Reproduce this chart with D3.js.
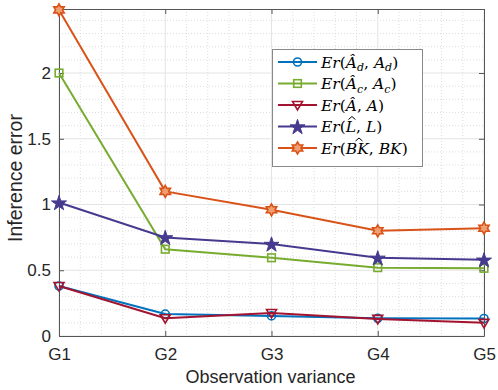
<!DOCTYPE html>
<html><head><meta charset="utf-8">
<script src="https://cdn.jsdelivr.net/npm/d3@7"></script>
<style>body{margin:0;background:#fff}svg{display:block}</style>
</head><body>
<svg id="c" width="498" height="390"></svg>
<script>
const categories = ["G1","G2","G3","G4","G5"];
const erAd = [0.38, 0.167, 0.153, 0.135, 0.133];
const erAc = [2.0, 0.66, 0.595, 0.52, 0.515];
const erA  = [0.38, 0.135, 0.175, 0.13, 0.10];
const erL  = [1.015, 0.75, 0.70, 0.595, 0.58];
const erBK = [2.48, 1.10, 0.96, 0.80, 0.82];
const yTicks = [0, 0.5, 1, 1.5, 2];

const series = [
  {v: erAd, color: "#0072BD", marker: "circle"},
  {v: erAc, color: "#77AC30", marker: "square"},
  {v: erA,  color: "#A2142F", marker: "tri"},
  {v: erL,  color: "#463A8F", marker: "star"},
  {v: erBK, color: "#D95319", marker: "hex"}
];

const svg = d3.select("#c");
const L = 59, R = 484, T = 9, B = 336;
const x = d3.scaleLinear().domain([0, categories.length - 1]).range([L, R]);
const y = d3.scaleLinear().domain([0, 2.487]).range([B, T]);

const g = svg.append("g");
const xMinor = d3.range(0, 4.0001, 0.2).filter(d => Math.abs(d - Math.round(d)) > 1e-6);
const yMinor = d3.range(0, 2.48, 0.1).filter(d => Math.abs(d*2 - Math.round(d*2)) > 1e-6);
g.selectAll(".xm").data(xMinor).join("line")
  .attr("x1", d => x(d)).attr("x2", d => x(d)).attr("y1", T).attr("y2", B)
  .attr("stroke", "#d4d4d4").attr("stroke-width", 0.8).attr("stroke-dasharray", "1,2");
g.selectAll(".ym").data(yMinor).join("line")
  .attr("y1", d => y(d)).attr("y2", d => y(d)).attr("x1", L).attr("x2", R)
  .attr("stroke", "#d4d4d4").attr("stroke-width", 0.8).attr("stroke-dasharray", "1,2");
g.selectAll(".xg").data(d3.range(categories.length)).join("line")
  .attr("x1", d => x(d)).attr("x2", d => x(d)).attr("y1", T).attr("y2", B)
  .attr("stroke", "#e3e3e3").attr("stroke-width", 1);
g.selectAll(".yg").data(yTicks).join("line")
  .attr("y1", d => y(d)).attr("y2", d => y(d)).attr("x1", L).attr("x2", R)
  .attr("stroke", "#e3e3e3").attr("stroke-width", 1);

const ax = d3.axisBottom(x).tickValues(d3.range(categories.length)).tickFormat(i => categories[i]).tickSizeInner(-5).tickSizeOuter(0).tickPadding(12);
const ay = d3.axisLeft(y).tickValues(yTicks).tickFormat(d3.format("")).tickSizeInner(-5).tickSizeOuter(0).tickPadding(8);
const axT = d3.axisTop(x).tickValues(d3.range(categories.length)).tickFormat("").tickSizeInner(-5).tickSizeOuter(0);
const ayR = d3.axisRight(y).tickValues(yTicks).tickFormat("").tickSizeInner(-5).tickSizeOuter(0);
function style(sel){
  sel.selectAll("path").attr("stroke", "#555").attr("stroke-width", 1);
  sel.selectAll("line").attr("stroke", "#555").attr("stroke-width", 1);
  sel.selectAll("text").attr("fill", "#262626").attr("font-family", "Liberation Sans, Arial, sans-serif").attr("font-size", 17);
}
svg.append("g").attr("transform", `translate(0,${B})`).call(ax).call(style);
svg.append("g").attr("transform", `translate(${L},0)`).call(ay).call(style);
svg.append("g").attr("transform", `translate(0,${T})`).call(axT).call(style);
svg.append("g").attr("transform", `translate(${R},0)`).call(ayR).call(style);

svg.append("text").attr("x", (L + R) / 2 - 1).attr("y", 383).attr("text-anchor", "middle")
  .attr("font-family", "Liberation Sans, Arial, sans-serif").attr("font-size", 18).attr("fill", "#262626")
  .text("Observation variance");
svg.append("text").attr("transform", `translate(22,${178}) rotate(-90)`).attr("text-anchor", "middle")
  .attr("font-family", "Liberation Sans, Arial, sans-serif").attr("font-size", 19.5).attr("fill", "#262626")
  .text("Inference error");

function hexPath(Rr){
  const r = Rr / Math.sqrt(3); const pts = [];
  for (let k = 0; k < 12; k++){
    const a = -Math.PI/2 + k * Math.PI / 6;
    const rad = k % 2 === 0 ? Rr : r;
    pts.push([rad*Math.cos(a), rad*Math.sin(a)]);
  }
  return "M" + pts.map(p => p.join(",")).join("L") + "Z";
}
function drawMarker(sel, m, color){
  if (m === "circle") sel.append("circle").attr("r", 4).attr("fill", "none").attr("stroke", color).attr("stroke-width", 1.6);
  else if (m === "square") sel.append("rect").attr("x", -3.8).attr("y", -3.8).attr("width", 7.6).attr("height", 7.6).attr("fill", "none").attr("stroke", color).attr("stroke-width", 1.6);
  else if (m === "tri") sel.append("path").attr("d", "M-5,-3.5L5,-3.5L0,5Z").attr("fill", "none").attr("stroke", color).attr("stroke-width", 1.6);
  else if (m === "star") sel.append("path").attr("d", d3.symbol(d3.symbolStar, 70)()).attr("transform","translate(0,0.8)").attr("fill", color).attr("stroke", color).attr("stroke-width", 1);
  else if (m === "hex") sel.append("path").attr("d", hexPath(6)).attr("fill", "#f0a070").attr("stroke", color).attr("stroke-width", 1.6);
}

const line = d3.line().x((d, i) => x(i)).y(d => y(d));
series.forEach(s => {
  svg.append("path").attr("d", line(s.v)).attr("fill", "none").attr("stroke", s.color).attr("stroke-width", 2);
  s.v.forEach((d, i) => {
    const mg = svg.append("g").attr("transform", `translate(${x(i)},${y(d)})`);
    drawMarker(mg, s.marker, s.color);
  });
});

// legend
const lg = svg.append("g");
lg.append("rect").attr("x", 272.5).attr("y", 49.5).attr("width", 150).attr("height", 117)
  .attr("fill", "#fff").attr("stroke", "#888").attr("stroke-width", 1);
const legendLabels = [
  [["Er","i"],["(","n"],["A\u0302","i"],["d","s"],[", ","n"],["A","i"],["d","s"],[")","n"]],
  [["Er","i"],["(","n"],["A\u0302","i"],["c","s"],[", ","n"],["A","i"],["c","s"],[")","n"]],
  [["Er","i"],["(","n"],["A\u0302","i"],[", ","n"],["A","i"],[")","n"]],
  [["Er","i"],["(","n"],["L","i",true],[", ","n"],["L","i"],[")","n"]],
  [["Er","i"],["(","n"],["BK","i",true],[", ","n"],["BK","i"],[")","n"]]
];
series.forEach((s, k) => {
  const yy = 62 + k * 21.5;
  lg.append("line").attr("x1", 278).attr("x2", 317).attr("y1", yy).attr("y2", yy).attr("stroke", s.color).attr("stroke-width", 2);
  const mg = lg.append("g").attr("transform", `translate(297.5,${yy})`);
  drawMarker(mg, s.marker, s.color);
  const t = lg.append("text").attr("x", 321).attr("y", yy + 5.5)
    .attr("font-family", "DejaVu Serif, Liberation Serif, serif").attr("font-size", 15.5).attr("fill", "#000");
  let sub = false;
  const hats = [];
  legendLabels[k].forEach(([str, kind, hat]) => {
    const ts = t.append("tspan").text(str);
    if (kind === "i") ts.attr("font-style", "italic");
    if (kind === "s") { ts.attr("font-style", "italic").attr("font-size", 11).attr("dy", 3.5); sub = true; }
    else if (sub) { ts.attr("dy", -3.5); sub = false; }
    if (hat) hats.push(ts.node());
  });
  hats.forEach(n => {
    const bb = n.getBBox();
    const cx = bb.x + bb.width / 2 + 1.5;
    const w = 3.5;
    const top = yy + 5.5 - 15;
    lg.append("path").attr("d", `M${cx - w},${top + 2.5} L${cx},${top - 0.5} L${cx + w},${top + 2.5}`)
      .attr("fill", "none").attr("stroke", "#000").attr("stroke-width", 1);
  });
});
</script>
</body></html>
